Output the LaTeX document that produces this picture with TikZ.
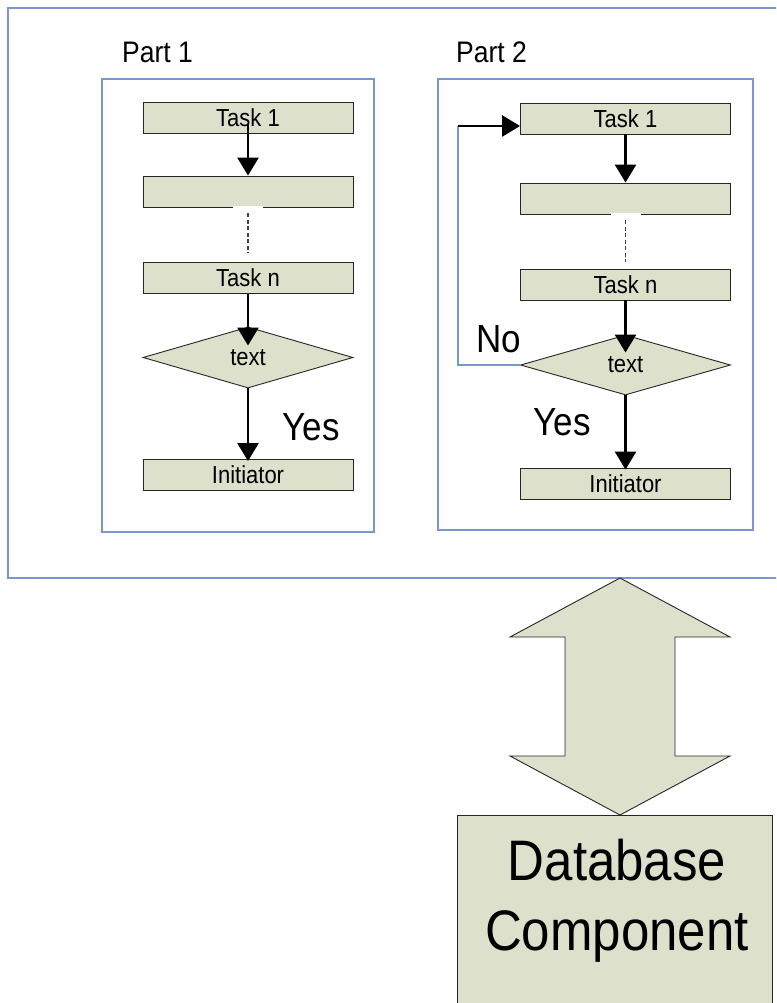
\documentclass[tikz,border=0pt]{standalone}
\usepackage{fontspec}
\setmainfont{Liberation Sans}
\usetikzlibrary{shapes.geometric,arrows.meta}
\definecolor{boxfill}{RGB}{221,225,204}
\definecolor{framecol}{RGB}{122,152,208}
\newcommand{\vs}[1]{\scalebox{1}[1.12]{#1}}
\begin{document}
\begin{tikzpicture}[x=1pt,y=-1pt,
  frame/.style={draw=framecol, line width=1.3pt},
  task/.style={draw=black!85, fill=boxfill, line width=0.9pt, minimum width=210pt, minimum height=31pt, inner sep=0pt, font=\fontsize{22}{24}\selectfont},
  decision/.style={diamond, draw=black!85, fill=boxfill, line width=0.9pt, minimum width=210pt, minimum height=61pt, inner sep=0pt, font=\fontsize{22}{24}\selectfont},
  arr/.style={line width=2.7pt, -{Triangle[length=18pt,width=21pt]}},
  dots/.style={draw=black!75, line width=1.4pt, dash pattern=on 4pt off 2.5pt},
  bigtext/.style={font=\fontsize{35}{38}\selectfont, inner sep=0pt},
  parttext/.style={font=\fontsize{26.5}{30}\selectfont, inner sep=0pt},
  dbtext/.style={font=\fontsize{51}{60}\selectfont, inner sep=0pt}]
\clip (0,0) rectangle (776,1003);
\fill[white] (0,0) rectangle (776,1003);
% frames
\draw[frame] (8,8) rectangle (800,578);
\draw[frame] (102,79) rectangle (374,532);
\draw[frame] (438,79) rectangle (753,530);
\node[parttext, anchor=west] (p1) at (122,52) {\vs{Part 1}};
\node[parttext, anchor=west] (p2) at (456,52) {\vs{Part 2}};
% part 1
\node[task] (a1) at (248,117.5) {\vs{Task 1}};
\node[task] (a2) at (248,191.5) {};
\node[task] (an) at (248,278) {\vs{Task n}};
\node[decision] (ad) at (248,357.5) {\vs{text}};
\node[task] (ai) at (248,475) {\vs{Initiator}};
\draw[arr] ([yshift=8pt]a1.south) -- (a2.north);
\draw[white, line width=2pt] ([xshift=-15pt]a2.south) -- ([xshift=15pt]a2.south);
\draw[dots] ([yshift=-6pt]a2.south) -- ([yshift=9pt]an.north);
\draw[arr] (an.south) -- ([yshift=-19pt]ad.north);
\draw[arr] (ad.south) -- ([yshift=-2pt]ai.north);
\node[bigtext] (y1) at (311,427) {\vs{Yes}};
% part 2
\node[task] (b1) at (625.5,118.5) {\vs{Task 1}};
\node[task] (b2) at (625.5,198.5) {};
\node[task] (bn) at (625.5,284.5) {\vs{Task n}};
\node[decision, minimum height=60pt] (bd) at (625.5,365) {\vs{text}};
\node[task] (bi) at (625.5,483.5) {\vs{Initiator}};
\draw[arr] (b1.south) -- (b2.north);
\draw[white, line width=2pt] ([xshift=-15pt]b2.south) -- ([xshift=15pt]b2.south);
\draw[dots] ([yshift=-6pt]b2.south) -- ([yshift=7pt]bn.north);
\draw[arr] (bn.south) -- ([yshift=-18pt]bd.north);
\draw[arr] (bd.south) -- ([yshift=-2pt]bi.north);
\coordinate (lp) at (458,126);
\draw[framecol, line width=1.2pt] (bd.west) -| (lp);
\draw[arr] (lp) -- (lp -| b1.west);
\node[bigtext] (no) at (499,339) {\vs{No}};
\node[bigtext] (y2) at (562,422) {\vs{Yes}};
% double arrow
\draw[draw=black!85, fill=boxfill, line width=0.9pt]
  (620,578) -- (730,637) -- (675,637) -- (675,756) -- (730,756) -- (620,815)
  -- (510,756) -- (565,756) -- (565,637) -- (510,637) -- cycle;
% database
\node[draw=black!85, fill=boxfill, line width=0.9pt, anchor=north west, minimum width=315pt, minimum height=200pt, inner sep=0pt] (db) at (457,815) {};
\node[dbtext, anchor=base] (dbt1) at (617,880) {\vs{Database}};
\node[dbtext, anchor=base] (dbt2) at (617,950) {\vs{Component}};
\end{tikzpicture}
\end{document}
